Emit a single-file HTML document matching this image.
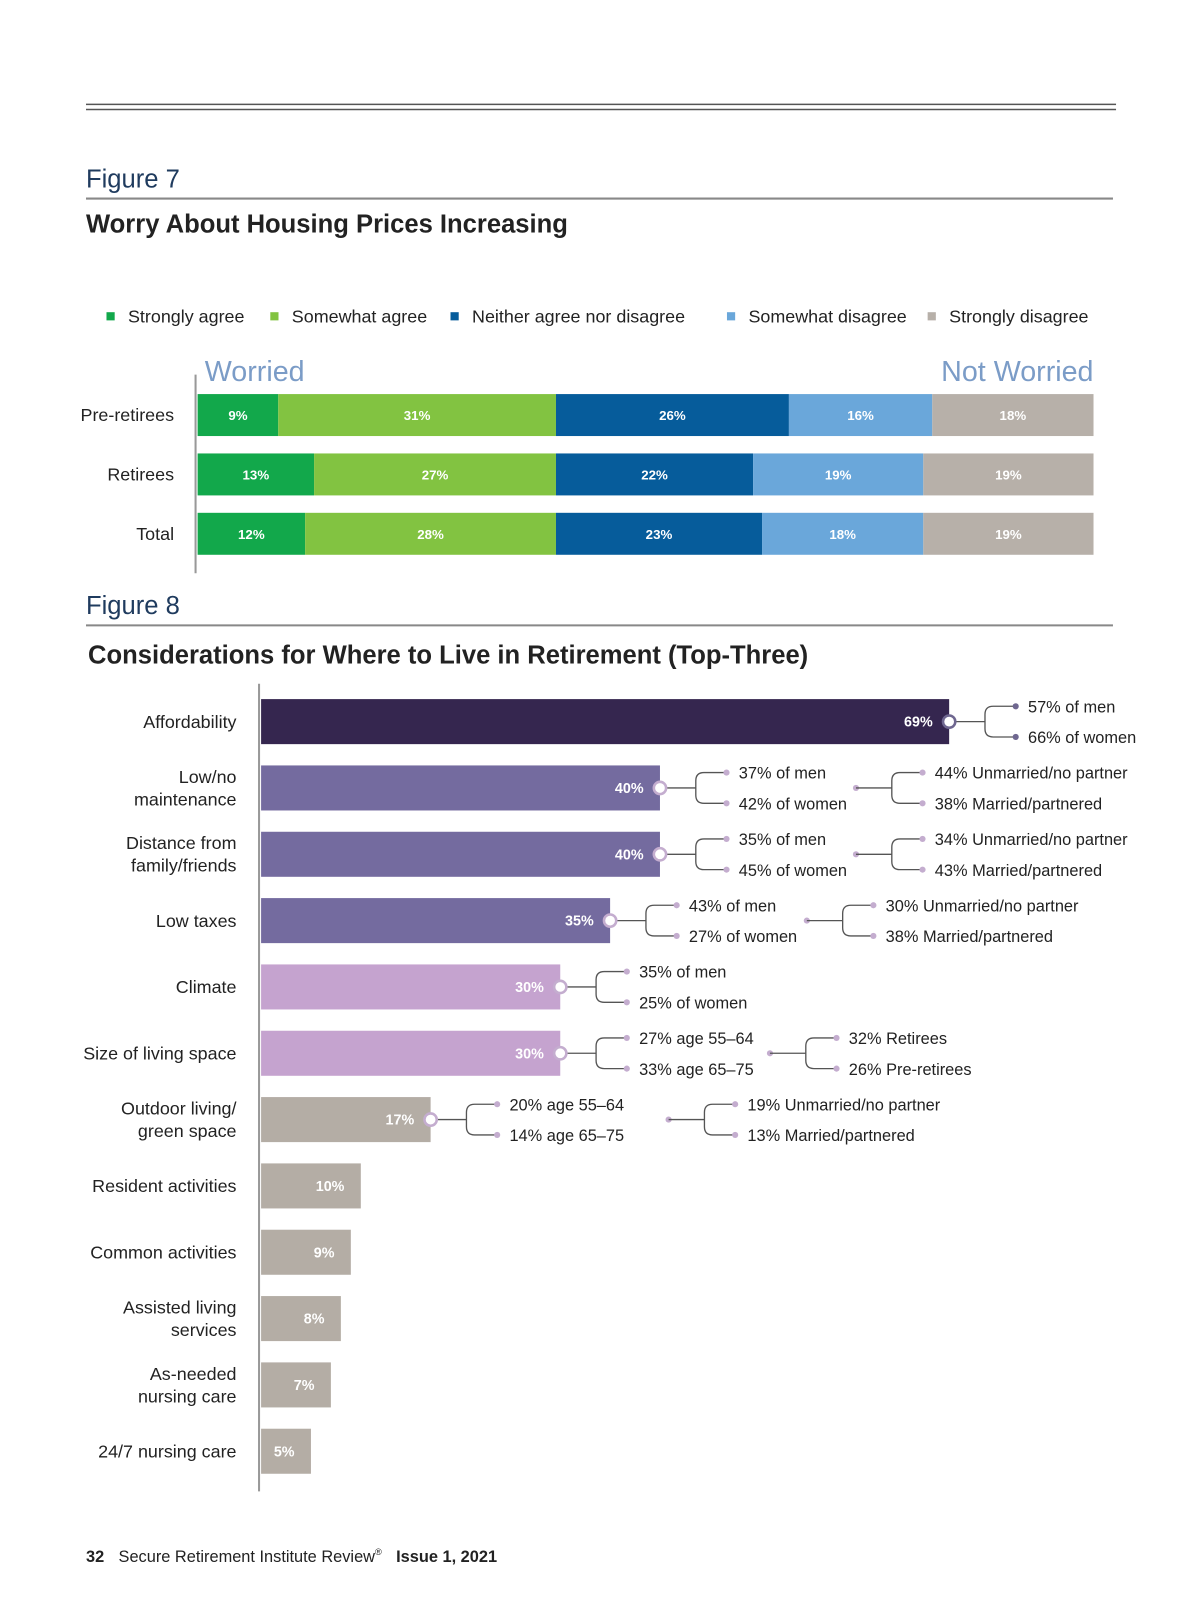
<!DOCTYPE html>
<html><head><meta charset="utf-8"><style>
html,body{margin:0;padding:0;background:#fff;}
svg{display:block;font-family:"Liberation Sans",sans-serif;}
</style></head><body>
<svg id="page" width="1200" height="1606" viewBox="0 0 1172 1569" preserveAspectRatio="none" xmlns="http://www.w3.org/2000/svg">
<line x1="84" y1="102" x2="1090" y2="102" stroke="#555" stroke-width="1.5"/>
<line x1="84" y1="107" x2="1090" y2="107" stroke="#555" stroke-width="1.5"/>
<text x="84" y="183" font-size="25" fill="#1f3b5e">Figure 7</text>
<line x1="84" y1="194" x2="1087" y2="194" stroke="#888" stroke-width="2"/>
<text x="84" y="227" font-size="25" font-weight="bold" fill="#222">Worry About Housing Prices Increasing</text>
<g id="legend"></g>
<text x="200" y="372" font-size="28" fill="#7b9cc7">Worried</text>
<text x="1068" y="372" font-size="28" fill="#7b9cc7" text-anchor="end">Not Worried</text>
<line x1="191" y1="366" x2="191" y2="560" stroke="#999" stroke-width="2"/>
<g id="fig7"></g>
<text x="84" y="600" font-size="25" fill="#1f3b5e">Figure 8</text>
<line x1="84" y1="611" x2="1087" y2="611" stroke="#888" stroke-width="2"/>
<text x="86" y="648" font-size="25" font-weight="bold" fill="#222">Considerations for Where to Live in Retirement (Top-Three)</text>
<line x1="253" y1="668" x2="253" y2="1457" stroke="#999" stroke-width="2"/>
<g id="fig8"></g>
<text x="84" y="1526" font-size="16" fill="#222"><tspan font-weight="bold">32</tspan><tspan dx="14">Secure Retirement Institute Review</tspan><tspan font-size="9" dy="-7">®</tspan><tspan dx="14" dy="7" font-weight="bold">Issue 1, 2021</tspan></text>
</svg>
<script>
const NS="http://www.w3.org/2000/svg";
const legendNames=["Strongly agree","Somewhat agree","Neither agree nor disagree","Somewhat disagree","Strongly disagree"];
const legendColors=["#12a84b","#82c341","#065c9b","#6aa7da","#b7b0a9"];
const groups7=["Pre-retirees","Retirees","Total"];
const preRetirees=[9,31,26,16,18];
const retirees=[13,27,22,19,19];
const totals=[12,28,23,18,19];
const fig7Series=[preRetirees,retirees,totals];

const cats8=[["Affordability"],["Low/no","maintenance"],["Distance from","family/friends"],["Low taxes"],["Climate"],["Size of living space"],["Outdoor living/","green space"],["Resident activities"],["Common activities"],["Assisted living","services"],["As-needed","nursing care"],["24/7 nursing care"]];
const values8=[69,40,40,35,30,30,17,10,9,8,7,5];
const split1=[["57% of men","66% of women"],["37% of men","42% of women"],["35% of men","45% of women"],["43% of men","27% of women"],["35% of men","25% of women"],["27% age 55–64","33% age 65–75"],["20% age 55–64","14% age 65–75"],null,null,null,null,null];
const split2=[null,["44% Unmarried/no partner","38% Married/partnered"],["34% Unmarried/no partner","43% Married/partnered"],["30% Unmarried/no partner","38% Married/partnered"],null,["32% Retirees","26% Pre-retirees"],["19% Unmarried/no partner","13% Married/partnered"],null,null,null,null,null];

function el(tag,attrs,parent,txt){const e=document.createElementNS(NS,tag);for(const k in attrs)e.setAttribute(k,attrs[k]);if(txt!==undefined)e.textContent=txt;parent.appendChild(e);return e;}

const lg=document.getElementById('legend');
const lgX=[104,264,440,710,906];
legendNames.forEach((n,i)=>{
  const r=el('rect',{x:lgX[i],y:305,width:8,height:8,fill:legendColors[i]},lg);
  
  
  const t=el('text',{x:lgX[i]+21,y:315,'font-size':17.5,fill:'#222'},lg,n);
  
  
});

const f7=document.getElementById('fig7');
const x7=v=>193+v*(1068-193)/100;
const rowY7=[385,443,501], h7=41;
groups7.forEach((g,gi)=>{
  const lab=el('text',{x:170,y:rowY7[gi]+h7/2+6,'font-size':17.5,fill:'#222','text-anchor':'end'},f7,g);
  
  
  let cum=0;
  fig7Series[gi].forEach((v,i)=>{
    const r=el('rect',{x:x7(cum),y:rowY7[gi],width:x7(cum+v)-x7(cum),height:h7,fill:legendColors[i]},f7);
    
    
    const t=el('text',{x:(x7(cum)+x7(cum+v))/2,y:rowY7[gi]+h7/2+5,'font-size':13,'font-weight':'bold',fill:'#fff','text-anchor':'middle'},f7,v+'%');
    
    
    cum+=v;
  });
});

const f8=document.getElementById('fig8');
const x8=v=>255+v*(927-255)/69;
const y8=i=>683+i*64.8, h8=44;
const col8=v=>v>=60?'#35264f':v>=35?'#746b9f':v>=20?'#c5a3cf':'#b4ada5';
const secondX=[0,836,836,788,0,752,653];
function bracket(g,x0,cy,texts,dotCol,startDot){
  const bx=x0+35;
  if(startDot){el('circle',{cx:x0,cy:cy,r:3,fill:dotCol},g);}
  el('line',{x1:x0,y1:cy,x2:bx,y2:cy,stroke:'#555','stroke-width':1.3},g);
  el('path',{d:`M${bx+8},${cy-15} Q${bx},${cy-15} ${bx},${cy-7} L${bx},${cy+7} Q${bx},${cy+15} ${bx+8},${cy+15} M${bx+8},${cy-15} L${x0+65},${cy-15} M${bx+8},${cy+15} L${x0+65},${cy+15}`,fill:'none',stroke:'#555','stroke-width':1.3},g);
  [-15,15].forEach((d,k)=>{
    el('circle',{cx:x0+65,cy:cy+d,r:3,fill:dotCol},g);
    const t=el('text',{x:x0+77,y:cy+d+6,'font-size':16,fill:'#222'},g,texts[k]);
    
    
  });
}
values8.forEach((v,i)=>{
  const y=y8(i), cy=y+h8/2;
  const lines=cats8[i];
  lines.forEach((ln,k)=>{
    const t=el('text',{x:231,y:cy+6+(k-(lines.length-1)/2)*22,'font-size':17.5,fill:'#222','text-anchor':'end'},f8,ln);
    
    
  });
  const r=el('rect',{x:255,y:y,width:x8(v)-255,height:h8,fill:col8(v)},f8);
  
  
  const vt=el('text',{x:x8(v)-16,y:cy+5,'font-size':14,'font-weight':'bold',fill:'#fff','text-anchor':'end'},f8,v+'%');
  
  
  if(split1[i]){
    const g=el('g',{},f8);
    
    
    const dc=v>=60?'#6f6790':'#c4adcf';
    bracket(g,x8(v),cy,split1[i],dc,false);
    el('circle',{cx:x8(v),cy:cy,r:6,fill:'#fff',stroke:dc,'stroke-width':2.5},g);
    if(split2[i]) bracket(g,secondX[i],cy,split2[i],dc,true);
  }
});
</script>
</body></html>
